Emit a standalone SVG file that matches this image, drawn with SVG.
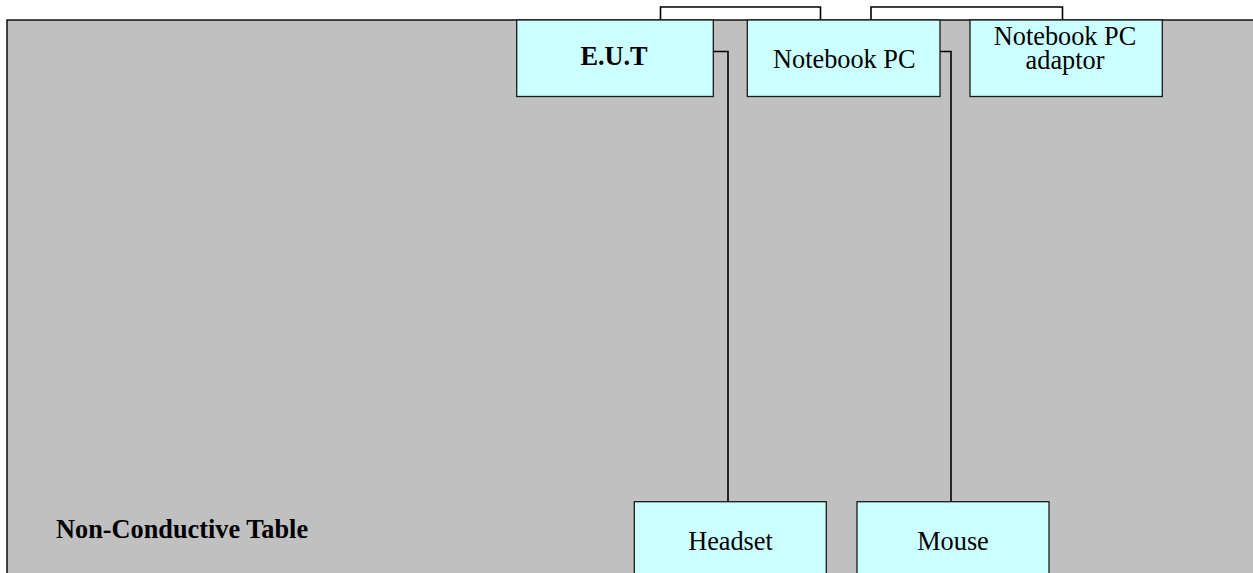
<svg xmlns="http://www.w3.org/2000/svg" width="1253" height="573" viewBox="0 0 1253 573">
<style>
.box{fill:#CCFFFF;stroke:#1a1a1a;stroke-width:1.3}
.t{font-family:"Liberation Serif","Times New Roman",serif;font-size:26.3px;fill:#000;text-anchor:middle}
.b{font-weight:bold}
.w{fill:none;stroke:#000;stroke-width:1.6}
</style>
<rect width="1253" height="573" fill="#fff"/>
<g id="table">
<rect x="7" y="20" width="1260" height="580" fill="#C0C0C0" stroke="#111" stroke-width="1.5"/>
<text class="t b" x="56" y="538.3" style="text-anchor:start">Non-Conductive Table</text>
</g>
<g id="connectors">
<polyline class="w" points="660.5,20 660.5,7 820.5,7 820.5,20"/>
<polyline class="w" points="871,20 871,7 1062.5,7 1062.5,20"/>
<polyline class="w" points="713.5,51.5 728,51.5 728,502"/>
<polyline class="w" points="940,51.5 951,51.5 951,502"/>
</g>
<g id="eut">
<rect class="box" x="516.7" y="20" width="196.6" height="76.5"/>
<text class="t b" x="614" y="65">E.U.T</text>
</g>
<g id="notebook">
<rect class="box" x="747.3" y="20" width="192.7" height="76.5"/>
<text class="t" x="844.3" y="68.3">Notebook PC</text>
</g>
<g id="adaptor">
<rect class="box" x="970" y="20" width="192.3" height="76.5"/>
<text class="t" x="1065" y="45"><tspan x="1065" y="45">Notebook PC</tspan><tspan x="1065" y="69.3">adaptor</tspan></text>
</g>
<g id="headset">
<rect class="box" x="634.3" y="501.7" width="192" height="90"/>
<text class="t" x="730.5" y="550">Headset</text>
</g>
<g id="mouse">
<rect class="box" x="857" y="501.7" width="192" height="90"/>
<text class="t" x="953" y="550">Mouse</text>
</g>
</svg>
